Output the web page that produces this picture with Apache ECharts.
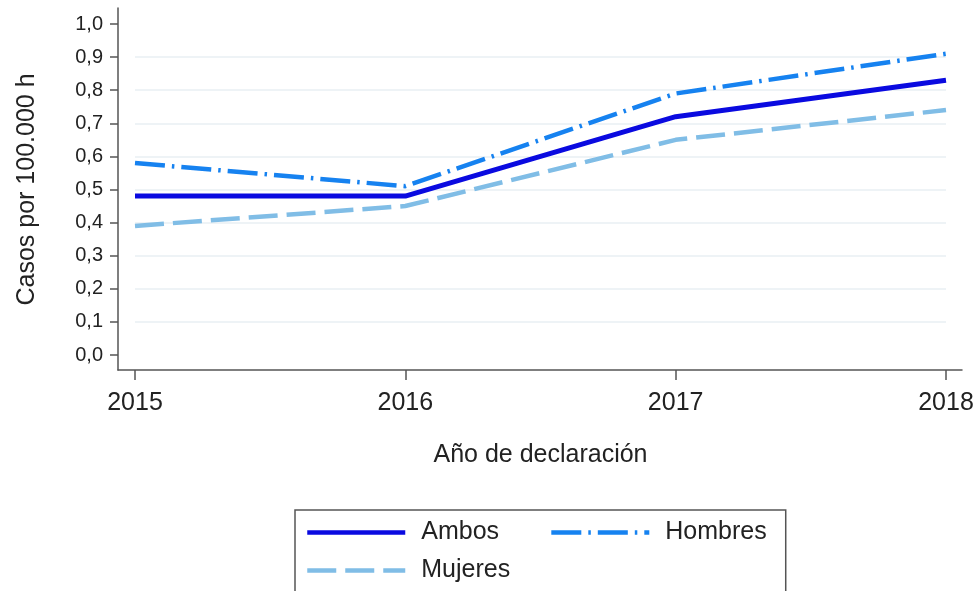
<!DOCTYPE html>
<html>
<head>
<meta charset="utf-8">
<script src="https://cdn.jsdelivr.net/npm/echarts@6/dist/echarts.min.js"></script>
<style>
html,body{margin:0;padding:0;background:#fff;}
#chart{width:980px;height:591px;}
</style>
</head>
<body>
<div id="chart"></div>
<script>
const years = ['2015', '2016', '2017', '2018'];
const ambos = [0.48, 0.48, 0.72, 0.83];
const hombres = [0.58, 0.51, 0.79, 0.91];
const mujeres = [0.39, 0.45, 0.65, 0.74];
const seriesNames = ['Ambos', 'Hombres', 'Mujeres'];
const xTitle = 'Año de declaración';
const yTitle = 'Casos por 100.000 h';

const FONT = '"Liberation Sans", Arial, sans-serif';
const AXIS = '#555';
const TXT = '#222';
const GRID = '#e8eff3';

const chart = echarts.init(document.getElementById('chart'), null, {renderer: 'canvas'});
chart.setOption({
  backgroundColor: '#fff',
  animation: false,
  textStyle: {fontFamily: FONT},
  grid: [
    {left: 135, right: 34, top: 24, bottom: 236},
    {left: 118, right: 18, top: 8, bottom: 221}
  ],
  xAxis: [
    {
      gridIndex: 0, type: 'category', data: years, boundaryGap: false, offset: 15,
      axisLine: {show: true, onZero: false, lineStyle: {color: 'rgba(0,0,0,0)'}},
      axisTick: {show: true, length: 10, lineStyle: {color: AXIS, width: 1.5}},
      axisLabel: {margin: 21, fontSize: 25, color: TXT, fontFamily: FONT},
      splitLine: {show: false},
      name: xTitle, nameLocation: 'middle', nameGap: 73,
      nameTextStyle: {fontSize: 25, color: TXT, fontFamily: FONT}
    },
    {
      gridIndex: 1, type: 'value', min: 0, max: 1,
      axisLine: {show: true, onZero: false, lineStyle: {color: AXIS, width: 1.5}},
      axisTick: {show: false}, axisLabel: {show: false}, splitLine: {show: false}
    }
  ],
  yAxis: [
    {
      gridIndex: 0, type: 'value', min: 0, max: 1, interval: 0.1, offset: 17,
      axisLine: {show: true, onZero: false, lineStyle: {color: 'rgba(0,0,0,0)'}},
      axisTick: {show: true, length: 8, lineStyle: {color: AXIS, width: 1.5}},
      axisLabel: {
        margin: 15, fontSize: 20, color: TXT, fontFamily: FONT,
        formatter: v => v.toFixed(1).replace('.', ',')
      },
      splitLine: {
        show: true,
        lineStyle: {
          width: 1.5,
          color: ['rgba(0,0,0,0)', GRID, GRID, GRID, GRID, GRID, GRID, GRID, GRID, GRID, 'rgba(0,0,0,0)']
        }
      },
      name: yTitle, nameLocation: 'middle', nameGap: 78,
      nameTextStyle: {fontSize: 25, color: TXT, fontFamily: FONT}
    },
    {
      gridIndex: 1, type: 'value', min: 0, max: 1,
      axisLine: {show: true, onZero: false, lineStyle: {color: AXIS, width: 1.5}},
      axisTick: {show: false}, axisLabel: {show: false}, splitLine: {show: false}
    }
  ],
  legend: [
    {
      data: [seriesNames[0], seriesNames[1]],
      left: 295, top: 510, orient: 'horizontal',
      padding: [10, 19, 80, 10],
      borderColor: AXIS, borderWidth: 1.5,
      itemWidth: 98, itemHeight: 14, itemGap: 50,
      lineStyle: {width: 4.5},
      itemStyle: {color: 'rgba(0,0,0,0)', borderWidth: 0, opacity: 0},
      textStyle: {fontSize: 25, color: TXT, fontFamily: FONT, padding: [0, 0, 0, 11]},
      selectedMode: false
    },
    {
      data: [seriesNames[2]],
      left: 305, top: 558, orient: 'horizontal', padding: 0,
      itemWidth: 98, itemHeight: 14,
      lineStyle: {width: 4.5},
      itemStyle: {color: 'rgba(0,0,0,0)', borderWidth: 0, opacity: 0},
      textStyle: {fontSize: 25, color: TXT, fontFamily: FONT, padding: [0, 0, 0, 11]},
      selectedMode: false
    }
  ],
  series: [
    {
      name: seriesNames[0], type: 'line', data: ambos, xAxisIndex: 0, yAxisIndex: 0,
      symbol: 'none', z: 4,
      lineStyle: {color: '#0a0ae0', width: 5, cap: 'butt'},
      itemStyle: {color: '#0a0ae0'}
    },
    {
      name: seriesNames[1], type: 'line', data: hombres, xAxisIndex: 0, yAxisIndex: 0,
      symbol: 'none', z: 3,
      lineStyle: {color: '#1682f0', width: 4.5, type: [30, 7, 2.5, 7], cap: 'butt'},
      itemStyle: {color: '#1682f0'}
    },
    {
      name: seriesNames[2], type: 'line', data: mujeres, xAxisIndex: 0, yAxisIndex: 0,
      symbol: 'none', z: 2,
      lineStyle: {color: '#80bde6', width: 4.5, type: [29, 9], cap: 'butt'},
      itemStyle: {color: '#80bde6'}
    }
  ]
});
</script>
</body>
</html>
